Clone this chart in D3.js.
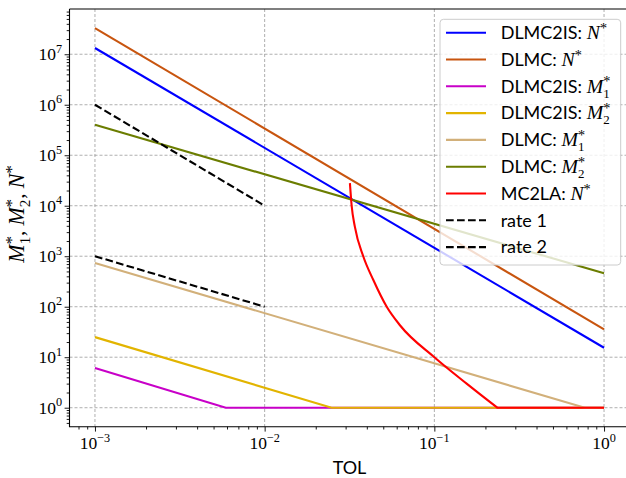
<!DOCTYPE html>
<html><head><meta charset="utf-8">
<script src="https://cdn.jsdelivr.net/npm/d3@7"></script>
<style>body{margin:0;background:#fff}svg{display:block}</style>
</head><body>
<svg id="chart" width="626" height="478"></svg>
<script>
// Optimal sample sizes versus tolerance (log-log)
const tolEnds = [1e-3, 1];
const dlmc2isN = [1.33e7, 15.4];
const dlmcN = [3.3e7, 35.7];
const dlmc2isM1Tol = [1e-3, 0.0059, 1];
const dlmc2isM1 = [6.1, 1, 1];
const dlmc2isM2Tol = [1e-3, 0.0248, 1];
const dlmc2isM2 = [25, 1, 1];
const dlmcM1Tol = [1e-3, 0.77, 1];
const dlmcM1 = [734, 1, 1];
const dlmcM2 = [4.0e5, 459];
const mc2laTol = [0.0318, 0.03256, 0.034, 0.0381, 0.0437, 0.0524, 0.0627, 0.1, 0.155, 0.235, 1];
const mc2laN = [2.8e4, 1.0e4, 3850, 1000, 338, 100, 43, 10, 3.0, 1, 1];
const rateTol = [1e-3, 1e-2];
const rate1 = [1e6, 1e4];
const rate2 = [1e3, 1e2];
const xTickExps = [-3, -2, -1, 0];
const yTickExps = [0, 1, 2, 3, 4, 5, 6, 7];

const SANS = "Lato, 'DejaVu Sans', sans-serif";
const SERIF = "'Liberation Serif', 'DejaVu Serif', serif";

const series = [
  {tol: tolEnds, val: dlmc2isN, color: "#0000ff", label: ["DLMC2IS: ", "N"]},
  {tol: tolEnds, val: dlmcN, color: "#c8550f", label: ["DLMC: ", "N"]},
  {tol: dlmc2isM1Tol, val: dlmc2isM1, color: "#c800c8", label: ["DLMC2IS: ", "M", "1"]},
  {tol: dlmc2isM2Tol, val: dlmc2isM2, color: "#e2b400", label: ["DLMC2IS: ", "M", "2"]},
  {tol: dlmcM1Tol, val: dlmcM1, color: "#d2b07a", label: ["DLMC: ", "M", "1"]},
  {tol: tolEnds, val: dlmcM2, color: "#6b7d00", label: ["DLMC: ", "M", "2"]},
  {tol: mc2laTol, val: mc2laN, color: "#ff0000", smooth: true, label: ["MC2LA: ", "N"]},
  {tol: rateTol, val: rate1, color: "#000000", dash: "7.7,3.3", label: ["rate 1"]},
  {tol: rateTol, val: rate2, color: "#000000", dash: "7.7,3.3", label: ["rate 2"]}
];

const svg = d3.select("#chart");
const pL = 69.5, pR = 629.5, pT = 9, pB = 426.7;
const x = d3.scaleLog().domain([Math.pow(10, -3.15), Math.pow(10, 0.15)]).range([pL, pR]);
const y = d3.scaleLog().domain([Math.pow(10, -0.376), Math.pow(10, 7.896)]).range([pB, pT]);

// grid
const grid = svg.append("g").attr("stroke", "#9a9a9a").attr("stroke-width", 0.8).attr("stroke-dasharray", "3,2");
xTickExps.forEach(e => grid.append("line").attr("x1", x(Math.pow(10, e))).attr("x2", x(Math.pow(10, e))).attr("y1", pT).attr("y2", pB));
yTickExps.forEach(e => grid.append("line").attr("y1", y(Math.pow(10, e))).attr("y2", y(Math.pow(10, e))).attr("x1", pL).attr("x2", pR));

// data lines
const line = d3.line().x(d => x(d[0])).y(d => y(d[1]));
const smoothLine = d3.line().x(d => x(d[0])).y(d => y(d[1])).curve(d3.curveMonotoneX);
const plot = svg.append("g");
series.forEach(s => {
  const pts = s.tol.map((t, i) => [t, s.val[i]]);
  let d;
  if (s.smooth) {
    // curved descent until the value reaches 1, then a straight floor
    const k = pts.findIndex(p => p[1] <= 1);
    d = smoothLine(pts.slice(0, k + 1)) + pts.slice(k + 1).map(p => `L${x(p[0])},${y(p[1])}`).join("");
  } else {
    d = line(pts);
  }
  plot.append("path").attr("d", d)
    .attr("fill", "none").attr("stroke", s.color).attr("stroke-width", 2.1)
    .attr("stroke-dasharray", s.dash || null);
});

// axes
const isMajor = d => Math.abs(Math.log10(d) - Math.round(Math.log10(d))) < 1e-9;
const xAxis = d3.axisBottom(x).tickValues(d3.range(-4, 1).flatMap(e => d3.range(1, 10).map(m => m * Math.pow(10, e))).filter(v => v >= x.domain()[0] && v <= x.domain()[1]))
  .tickSize(0).tickFormat("");
const gx = svg.append("g").attr("transform", `translate(0,${pB})`).call(xAxis);
gx.select(".domain").remove();
gx.selectAll(".tick line").remove();
gx.selectAll(".tick").append("line")
  .attr("y2", d => isMajor(d) ? 4.9 : 2.8)
  .attr("stroke", "#000").attr("stroke-width", 0.9);

const yAxis = d3.axisLeft(y).tickValues(d3.range(-1, 8).flatMap(e => d3.range(1, 10).map(m => m * Math.pow(10, e))).filter(v => v >= y.domain()[0] && v <= y.domain()[1]))
  .tickSize(0).tickFormat("");
const gy = svg.append("g").attr("transform", `translate(${pL},0)`).call(yAxis);
gy.select(".domain").remove();
gy.selectAll(".tick line").remove();
gy.selectAll(".tick").append("line")
  .attr("x2", d => isMajor(d) ? -4.9 : -2.8)
  .attr("stroke", "#000").attr("stroke-width", 0.9);

// spines
svg.append("path").attr("d", `M${pL},${pT}H${pR}M${pL},${pT}V${pB}H${pR}`)
  .attr("fill", "none").attr("stroke", "#000").attr("stroke-width", 1.1);

// tick labels
function powerLabel(sel, e, size) {
  sel.attr("font-family", SERIF).attr("font-size", size).attr("fill", "#000");
  sel.append("tspan").text("10");
  sel.append("tspan").attr("font-size", size * 0.7).attr("dy", -size * 0.42).text(e < 0 ? "\u2212" + (-e) : String(e));
}
xTickExps.forEach(e => {
  const t = svg.append("text").attr("x", x(Math.pow(10, e))).attr("y", 449).attr("text-anchor", "middle");
  powerLabel(t, e, 17.5);
});
yTickExps.forEach(e => {
  const t = svg.append("text").attr("x", 62).attr("y", y(Math.pow(10, e)) + 6).attr("text-anchor", "end");
  powerLabel(t, e, 17.5);
});

// rich label: plain text, then an italic symbol with optional subscript and a superscript star
function richLabel(sel, parts, size) {
  const [plain, sym, sub] = parts;
  sel.append("tspan").attr("font-family", SANS).attr("font-size", size).text(plain);
  if (!sym) return;
  sel.append("tspan").attr("font-family", SERIF).attr("font-style", "italic").attr("font-size", size * 1.1).text(sym);
  const ss = size * 0.72;
  if (sub) {
    sel.append("tspan").attr("font-family", SERIF).attr("font-size", ss).attr("dy", size * 0.28).text(sub);
    sel.append("tspan").attr("font-family", SERIF).attr("font-size", ss * 1.1).attr("dx", -ss * 0.5).attr("dy", -size * 0.62).text("*");
  } else {
    sel.append("tspan").attr("font-family", SERIF).attr("font-size", ss * 1.1).attr("dy", -size * 0.32).text("*");
  }
}

// axis titles
svg.append("text").attr("x", (pL + pR) / 2).attr("y", 474).attr("text-anchor", "middle")
  .attr("font-family", SANS).attr("font-size", 18).text("TOL");

const yl = svg.append("text").attr("transform", "translate(24,214) rotate(-90)").attr("text-anchor", "middle")
  .attr("font-family", SERIF).attr("font-size", 21);
(function () {
  const size = 21, ss = size * 0.72;
  const syms = [["M", "1"], ["M", "2"], ["N", null]];
  syms.forEach(([sym, sub], i) => {
    yl.append("tspan").attr("font-style", "italic").attr("font-size", size * 1.05).text(sym);
    if (sub) {
      yl.append("tspan").attr("font-size", ss).attr("dy", size * 0.28).text(sub);
      yl.append("tspan").attr("font-size", ss * 1.1).attr("dx", -ss * 0.5).attr("dy", -size * 0.62).text("*");
      yl.append("tspan").attr("dy", size * 0.34).text(", ");
    } else {
      yl.append("tspan").attr("font-size", ss * 1.1).attr("dy", -size * 0.32).text("*");
    }
  });
})();

// legend
const lg = svg.append("g");
lg.append("rect").attr("x", 440).attr("y", 19.3).attr("width", 180.7).attr("height", 245.7).attr("rx", 3.5)
  .attr("fill", "#fff").attr("fill-opacity", 0.8).attr("stroke", "#cccccc").attr("stroke-width", 1);
series.forEach((s, i) => {
  const cy = 32.7 + i * 26.8;
  lg.append("line").attr("x1", 446).attr("x2", 486).attr("y1", cy).attr("y2", cy)
    .attr("stroke", s.color).attr("stroke-width", 2.1).attr("stroke-dasharray", s.dash || null);
  const t = lg.append("text").attr("x", 500.7).attr("y", cy + 6.3).attr("fill", "#000");
  richLabel(t, s.label, 18);
});
</script>
</body></html>
